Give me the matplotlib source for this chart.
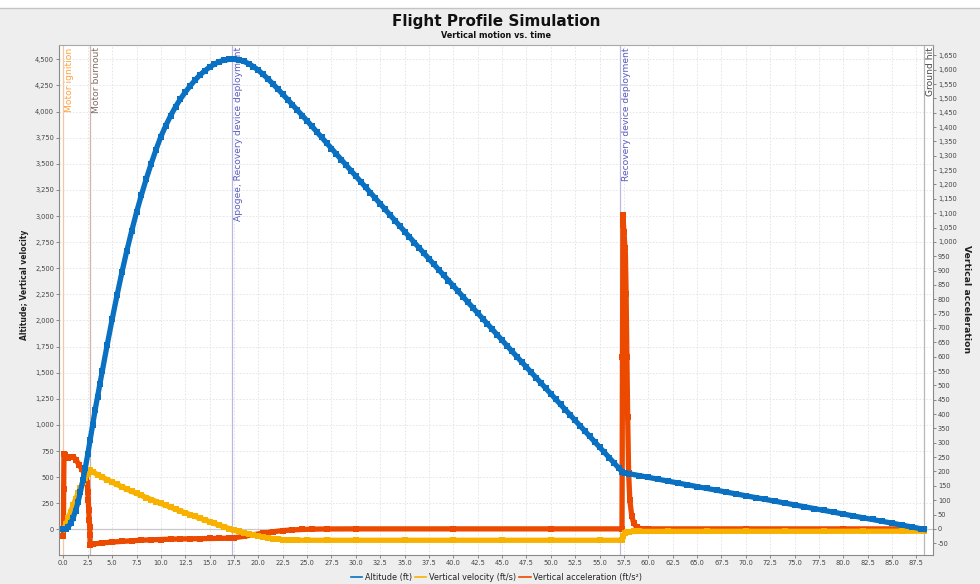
import matplotlib
matplotlib.use("Agg")
import matplotlib.pyplot as plt
import matplotlib.transforms as mtransforms
from matplotlib.lines import Line2D
from matplotlib.patches import Rectangle
from matplotlib.ticker import FuncFormatter, MultipleLocator
import numpy as np

# --- simulation output (time in s) ---
# altitude, boost + coast
boost_time = [0, 0.25, 0.5, 0.75, 1.0, 1.25, 1.5, 1.75, 2.0, 2.25,
              2.5, 2.75, 3.0, 3.25, 3.5, 3.75, 4.0, 4.5, 5.0, 5.5,
              6.0, 6.5, 7.0, 7.5, 8.0, 8.5, 9.0, 9.5, 10.0, 10.5,
              11.0, 11.5, 12.0, 12.5, 13.0, 13.5, 14.0, 14.5, 15.0, 15.5,
              16.0, 16.5, 17.0, 17.3]
boost_alt = [0, 5, 25, 60, 110, 180, 260, 360, 470, 590,
             720, 860, 1000, 1140, 1270, 1395, 1520, 1770, 2010, 2240,
             2460, 2665, 2855, 3035, 3200, 3355, 3500, 3635, 3760, 3865,
             3960, 4045, 4120, 4185, 4245, 4300, 4350, 4390, 4425, 4455,
             4478, 4492, 4499, 4500]

# altitude, drogue descent
drogue_time = [17.5, 18.0, 18.5, 19.0, 19.5, 20.0, 20.5, 21.0, 21.5, 22.0,
               22.5, 23.0, 23.5, 24.0, 24.5, 25.0, 25.5, 26.0, 26.5, 27.0,
               27.5, 28.0, 28.5, 29.0, 29.5, 30.0, 30.5, 31.0, 31.5, 32.0,
               32.5, 33.0, 33.5, 34.0, 34.5, 35.0, 35.5, 36.0, 36.5, 37.0,
               37.5, 38.0, 38.5, 39.0, 39.5, 40.0, 40.5, 41.0, 41.5, 42.0,
               42.5, 43.0, 43.5, 44.0, 44.5, 45.0, 45.5, 46.0, 46.5, 47.0,
               47.5, 48.0, 48.5, 49.0, 49.5, 50.0, 50.5, 51.0, 51.5, 52.0,
               52.5, 53.0, 53.5, 54.0, 54.5, 55.0, 55.5, 56.0, 56.5, 57.0]
drogue_alt = [4499, 4494, 4480, 4459, 4430, 4395, 4355, 4311, 4264, 4216,
              4166, 4115, 4064, 4013, 3962, 3911, 3858, 3805, 3752, 3699,
              3646, 3593, 3540, 3487, 3434, 3381, 3328, 3275, 3222, 3169,
              3116, 3063, 3010, 2957, 2904, 2851, 2798, 2746, 2694, 2642,
              2590, 2538, 2486, 2434, 2382, 2330, 2278, 2226, 2174, 2122,
              2070, 2018, 1966, 1914, 1862, 1810, 1758, 1706, 1655, 1604,
              1553, 1502, 1451, 1400, 1349, 1298, 1247, 1196, 1145, 1094,
              1043, 992, 941, 890, 839, 788, 737, 686, 635, 584]

# altitude, main chute descent
main_time = [57.3, 57.6, 58.0, 59.0, 60.0, 61.0, 62.0, 63.0, 64.0, 65.0,
             66.0, 67.0, 68.0, 69.0, 70.0, 71.0, 72.0, 73.0, 74.0, 75.0,
             76.0, 77.0, 78.0, 79.0, 80.0, 81.0, 82.0, 83.0, 84.0, 85.0,
             86.0, 87.0, 88.0, 88.3]
main_alt = [553, 542, 534, 516, 498, 480, 462, 445, 427, 410,
            392, 375, 357, 340, 322, 305, 287, 270, 252, 235,
            217, 200, 182, 165, 147, 130, 112, 95, 77, 60,
            42, 25, 7, 0]

vel_time = [0, 0.25, 0.5, 0.75, 1.0, 1.25, 1.5, 1.75, 2.0, 2.25,
            2.5, 2.75, 3.0, 3.5, 4.0, 4.5, 5.0, 5.5, 6.0, 6.5,
            7.0, 7.5, 8.0, 8.5, 9.0, 9.5, 10.0, 10.5, 11.0, 11.5,
            12.0, 12.5, 13.0, 13.5, 14.0, 14.5, 15.0, 15.5, 16.0, 16.5,
            17.0, 17.5, 18.0, 18.5, 19.0, 19.5, 20.0, 20.5, 21.0, 21.5,
            22.0, 22.5, 23.0, 23.5, 24.0, 25.0, 27.0, 30.0, 35.0, 40.0,
            45.0, 50.0, 55.0, 57.3, 57.45, 57.6, 57.8, 58.0, 58.5, 59.0,
            62.0, 66.0, 70.0, 74.0, 78.0, 82.0, 86.0, 88.3]
velocity = [0, 50, 110, 170, 230, 290, 345, 400, 450, 495,
            535, 565, 551, 525, 500, 476, 452, 430, 408, 386,
            365, 345, 325, 305, 286, 267, 248, 230, 212, 194,
            176, 159, 142, 125, 108, 91, 74, 57, 40, 24,
            8, -8, -20, -33, -45, -55, -65, -74, -82, -89,
            -94, -98, -101, -103, -104, -104, -104, -104, -104, -104,
            -104, -104, -104, -104, -62, -36, -26, -22, -20, -19,
            -18.5, -18.5, -18, -18, -18, -17.5, -17.5, -17.5]

acc_time = [0.0, 0.03, 0.06, 0.2, 0.5, 0.8, 1.0, 1.3, 1.6, 1.9,
            2.1, 2.3, 2.45, 2.5, 2.55, 2.6, 2.65, 2.7, 2.72, 2.75,
            3.0, 4.0, 5.0, 6.0, 7.0, 8.0, 9.0, 10.0, 11.0, 12.0,
            13.0, 14.0, 15.0, 16.0, 17.0, 17.5, 18.5, 19.5, 20.5, 21.5,
            22.5, 23.5, 24.5, 25.5, 27.0, 30.0, 40.0, 50.0, 57.3, 57.35,
            57.4, 57.45, 57.5, 57.55, 57.6, 57.65, 57.72, 57.8, 57.88, 57.98,
            58.1, 58.3, 58.5, 58.8, 59.2, 60.0, 70.0, 80.0, 88.3]
acceleration = [-24, 139, 262, 258, 247, 250, 252, 240, 224, 208,
                195, 182, 160, 130, 101, 66, 31, 8, -21, -57,
                -53, -49, -46, -43.5, -41.5, -39.5, -38, -37, -36, -35,
                -34.5, -34, -33.5, -33, -32.5, -31, -26, -20, -15, -10,
                -6, -3.5, -2, -1, -0.3, 0, 0, 0, 0, 600,
                1094, 1059, 1036, 1007, 979, 955, 820, 600, 391, 195,
                100, 45, 20, 6, 1, 0, 0, 0, 0]

event_names = ["Motor ignition", "Motor burnout", "Apogee, Recovery device deployment",
               "Recovery device deployment", "Ground hit"]
event_times = [0.0, 2.75, 17.3, 57.1, 88.3]

series_labels = ["Altitude (ft)", "Vertical velocity (ft/s)", "Vertical acceleration (ft/s\u00b2)"]

# --- styling ---
ALT_COLOR = "#0a70c2"
VEL_COLOR = "#f9b100"
ACC_COLOR = "#ec4a00"
event_line_colors = ["#f6c7a4", "#cbb7ae", "#b8b8e4", "#b8b8e4", "#b8b8b8"]
event_text_colors = ["#ffa040", "#7d6b63", "#5b5bc0", "#5b5bc0", "#4a4a4a"]
W, H = 980, 584

fig = plt.figure(figsize=(W / 100, H / 100), dpi=100, facecolor="#eeeeee")
ax = fig.add_axes([59 / W, 1 - 555 / H, 874 / W, 510 / H])
ax2 = ax.twinx()
# altitude/velocity on top of the acceleration axis
ax.set_zorder(2)
ax2.set_zorder(1)
ax.patch.set_visible(False)
ax2.patch.set_visible(True)
ax2.set_facecolor("white")

ax.set_xlim(-0.45, 89.2)
ax.set_ylim(-245, 4637)
ax2.set_ylim(-91, 1686)

# grid + zero line, drawn underneath everything on the lower axes
hgrid = mtransforms.blended_transform_factory(ax2.transAxes, ax.transData)
for yv in np.arange(0, 4501, 250):
    ax2.plot([0, 1], [yv, yv], transform=hgrid, color="#e2e2e2", lw=0.6,
             dashes=(2, 2), zorder=0.5)
for xv in np.arange(0, 89, 2.5):
    ax2.axvline(xv, color="#e2e2e2", lw=0.6, dashes=(2, 2), zorder=0.5)
ax2.plot([0, 1], [0, 0], transform=hgrid, color="#c9c9c9", lw=0.9, zorder=0.8)

# flight events
label_tr = mtransforms.blended_transform_factory(ax2.transData, ax2.transAxes) + \
    mtransforms.ScaledTranslation(2 / 100, -2.3 / 100, fig.dpi_scale_trans)
for name, t, lc, tc in zip(event_names, event_times, event_line_colors, event_text_colors):
    ax2.axvline(t, color=lc, lw=0.9, zorder=1)
    ax2.text(t, 1, name, transform=label_tr, rotation=90, ha="left", va="top",
             fontsize=6.6, color=tc, zorder=1.1, clip_on=False)

alt_t = boost_time + drogue_time + main_time
alt_v = boost_alt + drogue_alt + main_alt
line_kw = dict(lw=3.8, marker="s", ms=4.6, mew=0, solid_joinstyle="round")
ax2.plot(acc_time, acceleration, color=ACC_COLOR, zorder=2, **line_kw)
ax.plot(vel_time, velocity, color=VEL_COLOR, zorder=2, **line_kw)
ax.plot(alt_t, alt_v, color=ALT_COLOR, zorder=3, **line_kw)

# axes, ticks
thousands = FuncFormatter(lambda v, p: f"{v:,.0f}")
ax.yaxis.set_major_locator(MultipleLocator(250))
ax.yaxis.set_major_formatter(thousands)
ax2.yaxis.set_major_locator(MultipleLocator(50))
ax2.yaxis.set_major_formatter(thousands)
ax.xaxis.set_major_locator(MultipleLocator(2.5))
ax.xaxis.set_major_formatter(FuncFormatter(lambda v, p: f"{v:.1f}"))
for a in (ax, ax2):
    a.tick_params(length=2, width=0.6, color="#777777", labelsize=4.8,
                  labelcolor="#444444", pad=1.5)
for side in ("left", "bottom", "right"):
    ax.spines[side].set_color("#8a8a8a")
    ax.spines[side].set_linewidth(0.8)
ax.spines["top"].set_color("#a8a8a8")
ax.spines["top"].set_linewidth(0.8)
for s in ax2.spines.values():
    s.set_visible(False)

ax.set_ylabel("Altitude; Vertical velocity", fontsize=5.5, fontweight="bold", color="#222222")
ax.yaxis.label.set_va("baseline")
ax.yaxis.set_label_coords((27.5 - 59) / 874, 0.529)
ax2.set_ylabel("Vertical acceleration", fontsize=6.7, fontweight="bold", color="#222222",
               rotation=-90)
ax2.yaxis.label.set_va("baseline")
ax2.yaxis.set_label_coords((963.5 - 59) / 874, 0.502)

# header
fig.add_artist(Rectangle((0, 1 - 6.5 / H), 1, 6.5 / H, transform=fig.transFigure,
                         color="white", zorder=0))
fig.add_artist(Line2D([0, 1], [1 - 7.5 / H, 1 - 7.5 / H], transform=fig.transFigure,
                      color="#c4c4c4", lw=1.0))
fig.text(496 / W, 1 - 26 / H, "Flight Profile Simulation", ha="center", va="baseline",
         fontsize=11, fontweight="bold", color="#111111")
fig.text(496 / W, 1 - 37.5 / H, "Vertical motion vs. time", ha="center", va="baseline",
         fontsize=5.9, fontweight="bold", color="#111111")

handles = [Line2D([], [], color=c, lw=1.2) for c in (ALT_COLOR, VEL_COLOR, ACC_COLOR)]
fig.legend(handles, series_labels, loc="center", bbox_to_anchor=(496.5 / W, 1 - 577.7 / H),
           ncol=3, frameon=False, fontsize=5.85, handlelength=1.4, handletextpad=0.3,
           columnspacing=0.4, labelcolor="#222222")

fig.savefig("out.png", dpi=100, facecolor=fig.get_facecolor())
